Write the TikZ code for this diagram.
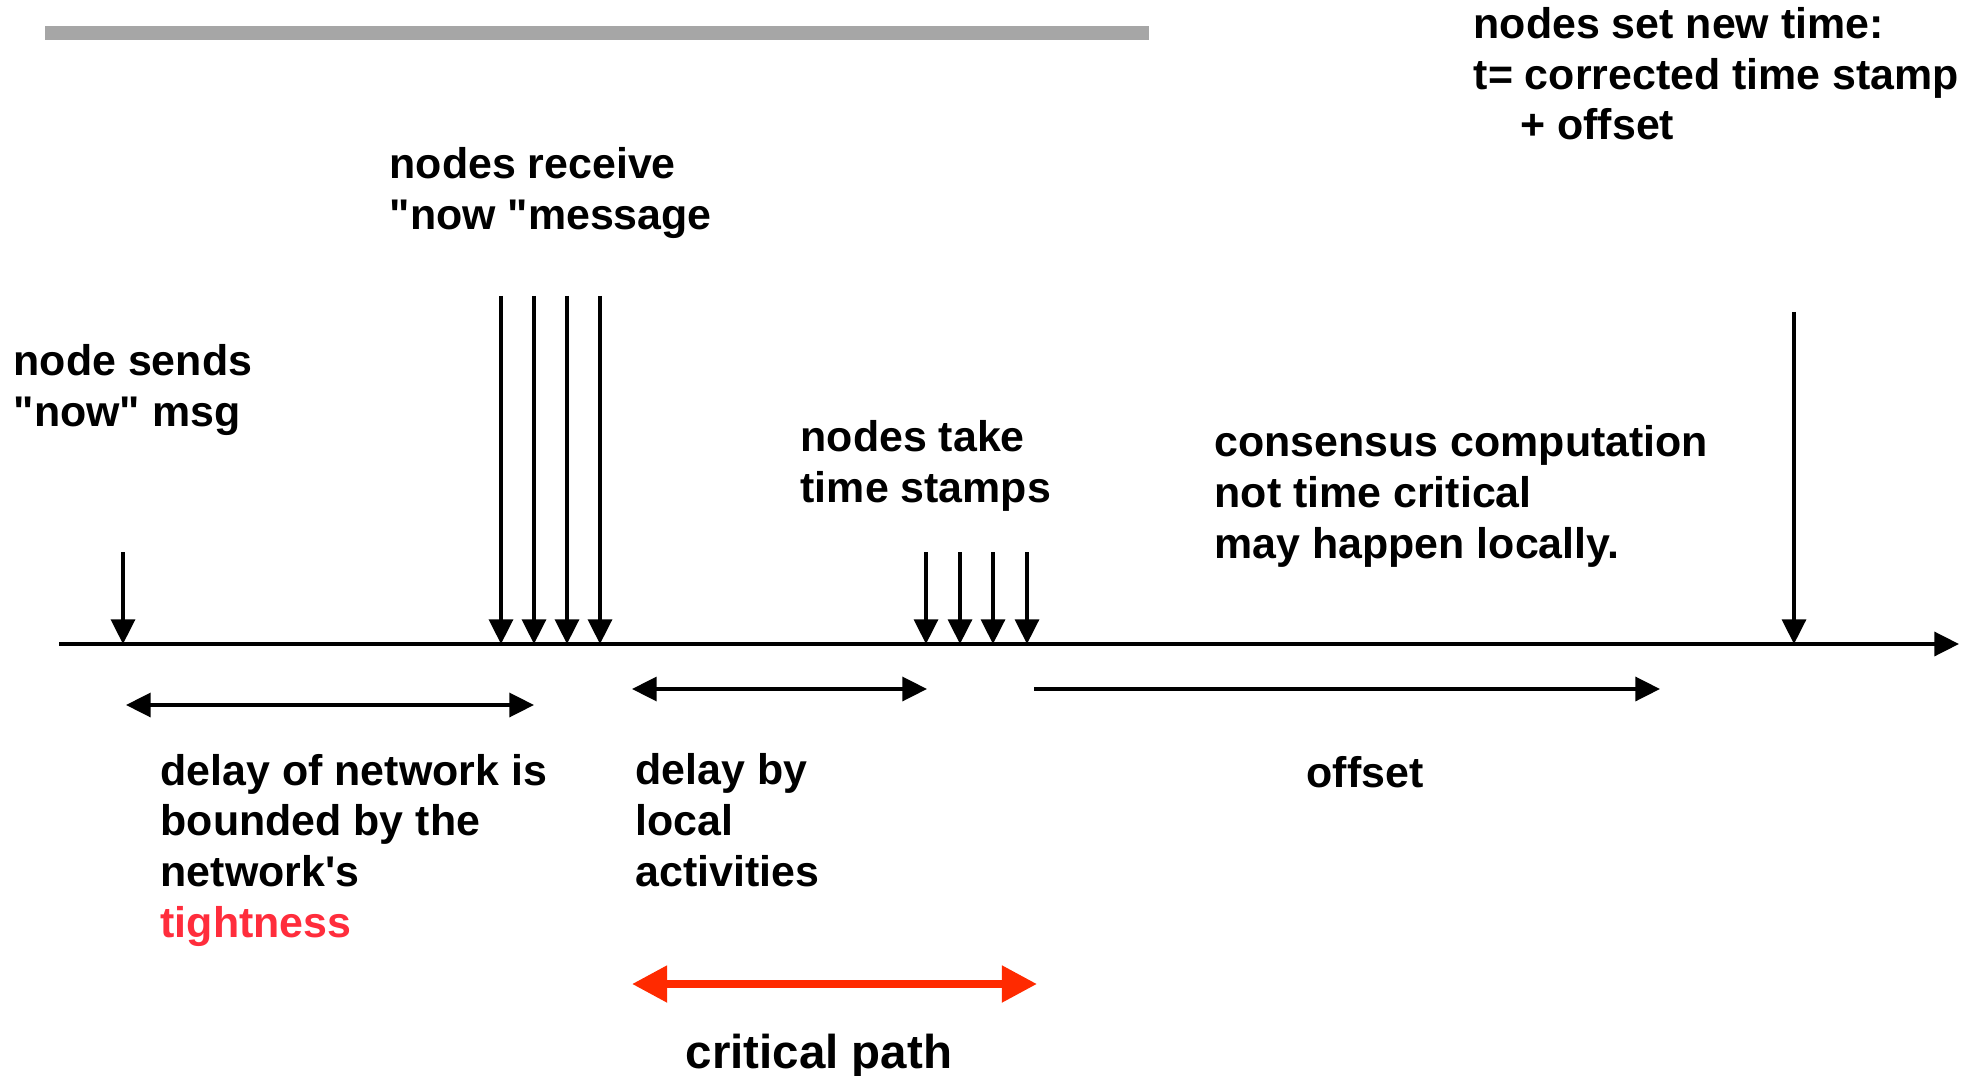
\documentclass[tikz,border=0pt]{standalone}
\usepackage{fontspec}
\setmainfont{Liberation Sans}[Ligatures=TeXOff]
\usetikzlibrary{arrows.meta}
\definecolor{barGray}{RGB}{166,166,166}
\definecolor{critRed}{RGB}{255,42,0}
\definecolor{tightRed}{RGB}{255,45,60}
\tikzstyle{noteText}=[anchor=base west, inner sep=0pt, align=left, font=\fontsize{12.2}{14.4}\selectfont\bfseries]
\tikzstyle{tickArrow}=[-{Triangle[length=7pt,width=6.8pt]}, line width=1pt]
\tikzstyle{spanArrow}=[{Triangle[length=7pt,width=6.8pt]}-{Triangle[length=7pt,width=6.8pt]}, line width=1pt]
\tikzstyle{critArrow}=[{Triangle[length=10pt,width=10pt]}-{Triangle[length=10pt,width=10pt]}, line width=2.2pt, critRed]

\begin{document}
\begin{tikzpicture}[x=0.01cm, y=-0.01cm]
	\useasboundingbox (0,0) rectangle (1975,1076);

	% grey bar on top
	\fill[barGray] (45,26) rectangle (1149,40);

	% texts (placed at the baseline of their last line)
	\node[noteText] (sendText) at (13,426) {node sends\\"now" msg};
	\node[noteText] (recvText) at (389,229) {nodes receive\\"now "message};
	\node[noteText] (stampText) at (800,502) {nodes take\\time stamps};
	\node[noteText] (consText) at (1214,558) {consensus computation\\not time critical\\may happen locally.};
	\node[noteText] (setText) at (1473,140) {nodes set new time:\\t= corrected time stamp\\\hspace*{13.3pt}+ offset};
	\node[noteText] (netText) at (160,937) {delay of network is\\bounded by the\\network's\\\textcolor{tightRed}{tightness}};
	\node[noteText] (localText) at (635,886) {delay by\\local\\activities};
	\node[noteText] (offText) at (1306,787) {offset};
	\node[anchor=base, inner sep=0pt, font=\fontsize{13.5}{16}\selectfont\bfseries] (critText) at (819,1068) {critical path};

	% time line
	\coordinate (tStart) at (59,644);
	\coordinate (tEnd) at (1959,644);
	\draw[tickArrow] (tStart) -- (tEnd);

	% node sends
	\coordinate (s0) at (123,552);
	\coordinate (s1) at (123,644);
	\draw[tickArrow] (s0) -- (s1);

	% nodes receive
	\coordinate (r1) at (501,296);
	\coordinate (r2) at (534,296);
	\coordinate (r3) at (567,296);
	\coordinate (r4) at (600,296);
	\draw[tickArrow] (r1) -- (r1 |- tStart);
	\draw[tickArrow] (r2) -- (r2 |- tStart);
	\draw[tickArrow] (r3) -- (r3 |- tStart);
	\draw[tickArrow] (r4) -- (r4 |- tStart);

	% nodes take time stamps
	\coordinate (p1) at (926,552);
	\coordinate (p2) at (960,552);
	\coordinate (p3) at (993,552);
	\coordinate (p4) at (1027,552);
	\draw[tickArrow] (p1) -- (p1 |- tStart);
	\draw[tickArrow] (p2) -- (p2 |- tStart);
	\draw[tickArrow] (p3) -- (p3 |- tStart);
	\draw[tickArrow] (p4) -- (p4 |- tStart);

	% nodes set new time
	\coordinate (n0) at (1794,312);
	\draw[tickArrow] (n0) -- (n0 |- tStart);

	% spans
	\coordinate (a0) at (126,705);
	\coordinate (a1) at (534,705);
	\draw[spanArrow] (a0) -- (a1);

	\coordinate (b0) at (632,689);
	\coordinate (b1) at (927,689);
	\draw[spanArrow] (b0) -- (b1);

	\coordinate (c0) at (1034,689);
	\coordinate (c1) at (1660,689);
	\draw[tickArrow] (c0) -- (c1);

	\coordinate (d0) at (632,984);
	\coordinate (d1) at (1037,984);
	\draw[critArrow] (d0) -- (d1);
\end{tikzpicture}
\end{document}
